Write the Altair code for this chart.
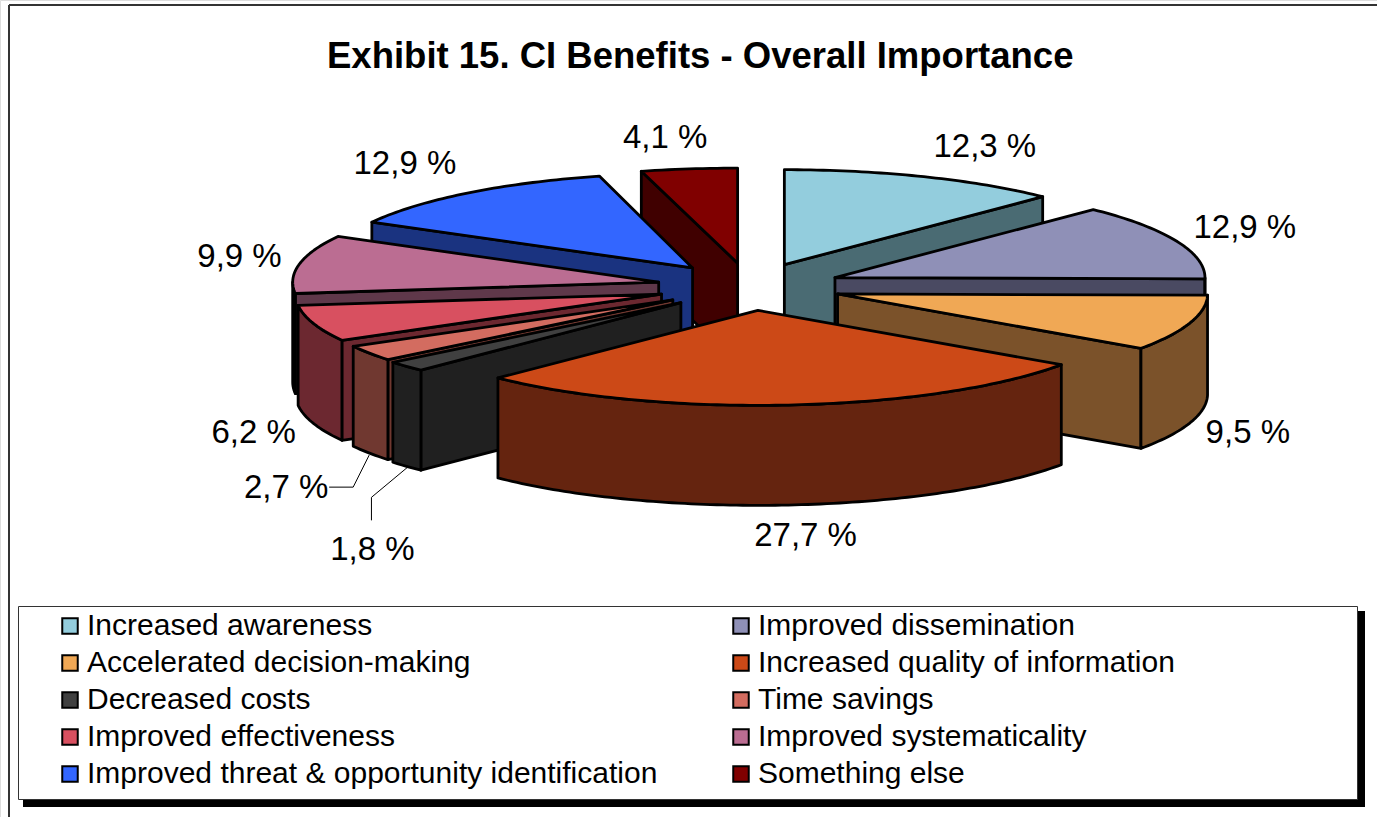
import math
import altair as alt
import pandas as pd

W, H = 1377, 817
FONT = "Liberation Sans"

# Survey results
categories = [
    "Increased awareness", "Improved dissemination", "Accelerated decision-making",
    "Increased quality of information", "Decreased costs", "Time savings",
    "Improved effectiveness", "Improved systematicality",
    "Improved threat & opportunity identification", "Something else",
]
shares = [12.3, 12.9, 9.5, 27.7, 1.8, 2.7, 6.2, 9.9, 12.9, 4.1]
share_labels = ["12,3 %", "12,9 %", "9,5 %", "27,7 %", "1,8 %", "2,7 %", "6,2 %", "9,9 %", "12,9 %", "4,1 %"]

# Slice styling
top_colors = ["#93CDDD", "#8F90B7", "#F0A855", "#CC4917", "#404040",
              "#D36C60", "#D85060", "#BB6D92", "#3366FF", "#800000"]
side_colors = ["#4A6B73", "#4A4A62", "#7B522A", "#65240F", "#202020",
               "#703830", "#6C2830", "#5F384A", "#1A3380", "#400000"]

# Projection of the tilted, exploded pie
CX, CY = 749.5, 286.7
RX, RY = 370.0, 95.0
EXPLODE = 0.25
DEPTH = 100.0
# Horizontal radius per slice: perspective narrows the far-left slices a little
slice_rx = [370, 370, 370, 370, 370, 366, 366, 366, 366, 378]
# Back-to-front painting sequence of the slices
paint_order = [0, 9, 1, 8, 7, 2, 6, 5, 4, 3]
# Label placement relative to the outer rim of each slice
label_nudges = [(61, -30), (68, -13), (58, 110), (14, 131), (-34, 184),
                (-80, 135), (-56, 110), (-56, -7), (-60, -29), (-25, -31)]
# Leader lines (slice index, offsets from its rim point)
leaders = {4: [(1, 101), (-35, 131), (-35, 154)], 5: [(3, 102), (-13, 134), (-37, 134)]}


def rim(ax, ay, deg, rx):
    t = math.radians(deg)
    return ax + rx * math.sin(t), ay - RY * math.cos(t)


angles = [0.0]
for s in shares:
    angles.append(angles[-1] + s * 3.6)

rows = []
poly_id = 0


def add_poly(points, fill):
    global poly_id
    for k, (x, y) in enumerate(points):
        rows.append({"poly": poly_id, "pt": k, "px": x, "py": y, "fill": fill})
    poly_id += 1


def arc_points(ax, ay, a, b, rx):
    steps = max(2, int(abs(b - a)))
    return [rim(ax, ay, a + (b - a) * i / steps, rx) for i in range(steps + 1)]


label_rows, leader_rows = [], []
for i in paint_order:
    a, b = angles[i], angles[i + 1]
    rx = slice_rx[i]
    mid = math.radians((a + b) / 2)
    ax = CX + EXPLODE * RX * math.sin(mid)
    ay = CY - EXPLODE * RY * math.cos(mid)
    top_arc = arc_points(ax, ay, a, b, rx)
    side = side_colors[i]

    # Visible walls: the two cut faces, then the curved outer wall
    if 180 < a < 360:
        p = top_arc[0]
        add_poly([(ax, ay), p, (p[0], p[1] + DEPTH), (ax, ay + DEPTH)], side)
    if 0 < b < 180:
        p = top_arc[-1]
        add_poly([(ax, ay), p, (p[0], p[1] + DEPTH), (ax, ay + DEPTH)], side)
    lo, hi = max(a, 90.0), min(b, 270.0)
    if hi > lo:
        wall = arc_points(ax, ay, lo, hi, rx)
        add_poly(wall + [(x, y + DEPTH) for x, y in reversed(wall)], side)
    add_poly([(ax, ay)] + top_arc, top_colors[i])

    bx = CX + (EXPLODE + 1) * RX * math.sin(mid)
    by = CY - (EXPLODE + 1) * RY * math.cos(mid)
    nx, ny = label_nudges[i]
    label_rows.append({"px": bx + nx, "py": by + ny, "label": share_labels[i]})
    for k, (ox, oy) in enumerate(leaders.get(i, [])):
        leader_rows.append({"id": i, "pt": k, "px": bx + ox, "py": by + oy})

x_scale = alt.Scale(domain=[0, W], nice=False, zero=False)
y_scale = alt.Scale(domain=[H, 0], nice=False, zero=False)
X = alt.X("px:Q", scale=x_scale, axis=None)
Y = alt.Y("py:Q", scale=y_scale, axis=None)

frame_top = alt.Chart(pd.DataFrame({"a": [0]})).mark_rule(color="#333333", strokeWidth=2).encode(
    x=alt.value(9), x2=alt.value(W), y=alt.value(5))
frame_left = alt.Chart(pd.DataFrame({"a": [0]})).mark_rule(color="#333333", strokeWidth=2).encode(
    x=alt.value(9), y=alt.value(5), y2=alt.value(H))

shadow = alt.Chart(pd.DataFrame({"a": [0]})).mark_rect(color="#000000").encode(
    x=alt.value(23), x2=alt.value(1365), y=alt.value(611), y2=alt.value(807))
legend_box = alt.Chart(pd.DataFrame({"a": [0]})).mark_rect(
    fill="#FFFFFF", stroke="#333333", strokeWidth=1).encode(
    x=alt.value(18.5), x2=alt.value(1357.5), y=alt.value(606.5), y2=alt.value(799.5))

pie = alt.Chart(pd.DataFrame(rows)).mark_line(
    stroke="#000000", strokeWidth=2.8, interpolate="linear-closed", strokeJoin="round"
).encode(x=X, y=Y, detail="poly:N", order="pt:Q", fill=alt.Fill("fill:N", scale=None))

leader_lines = alt.Chart(pd.DataFrame(leader_rows)).mark_line(
    stroke="#000000", strokeWidth=1
).encode(x=X, y=Y, detail="id:N", order="pt:Q")

labels = alt.Chart(pd.DataFrame(label_rows)).mark_text(
    font=FONT, fontSize=33, color="#000000", align="center", baseline="middle"
).encode(x=X, y=Y, text="label:N")

legend_layer = alt.Chart(pd.DataFrame({"category": categories})).mark_square(size=0, opacity=0).encode(
    x=alt.value(0), y=alt.value(0),
    color=alt.Color(
        "category:N",
        scale=alt.Scale(domain=categories, range=top_colors),
        legend=alt.Legend(
            title=None, orient="none", legendX=55, legendY=611, columns=2, direction="horizontal",
            symbolType="square", symbolSize=240, symbolStrokeColor="#000000", symbolStrokeWidth=2,
            symbolOpacity=1, symbolOffset=0, labelFont=FONT, labelFontSize=30, labelColor="#000000",
            labelLimit=700, labelOffset=2, rowPadding=7, columnPadding=68, gridAlign="all", padding=0,
            zindex=1,
        ),
    ),
)

chart = alt.layer(
    frame_top, frame_left, pie, leader_lines, labels, shadow, legend_box, legend_layer
).properties(
    width=W, height=H, padding=0, autosize=alt.AutoSizeParams(type="none"),
    title=alt.TitleParams(
        "Exhibit 15. CI Benefits - Overall Importance", font=FONT, fontSize=36.5, fontWeight="bold",
        color="#000000", anchor="start", frame="group", dx=327, dy=104, offset=0, baseline="alphabetic",
    ),
).configure_view(stroke=None).configure(background="#FFFFFF")

chart.save("out.html", embed_options={"renderer": "svg", "actions": False})
